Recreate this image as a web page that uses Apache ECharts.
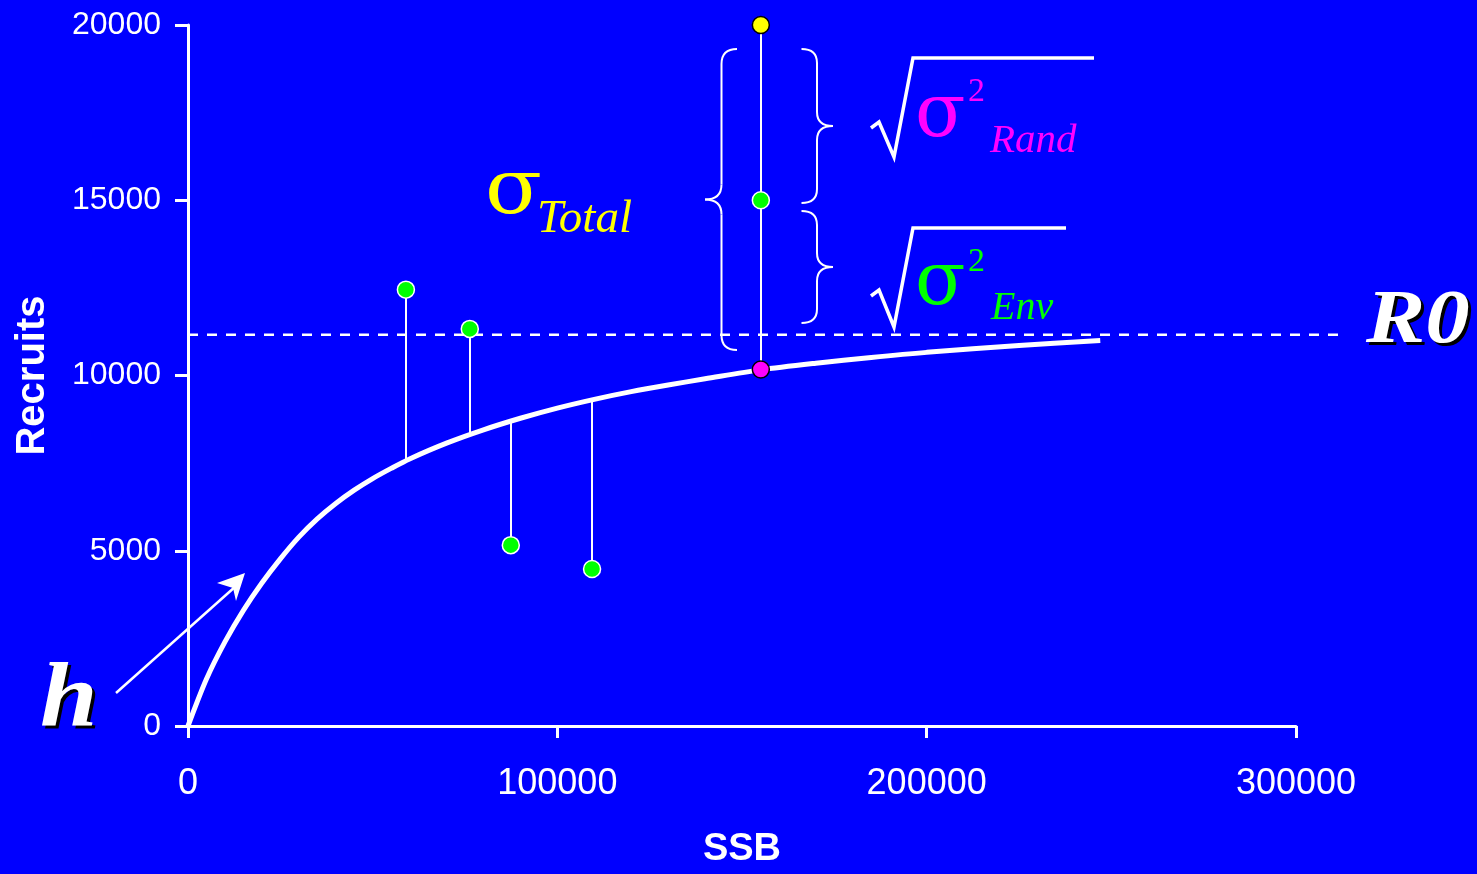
<!DOCTYPE html>
<html><head><meta charset="utf-8">
<script src="https://cdn.jsdelivr.net/npm/echarts@6/dist/echarts.min.js"></script>
<style>html,body{margin:0;padding:0;background:#0000ff;overflow:hidden;}#c{width:1477px;height:874px;}</style>
</head><body><div id="c"></div>
<script>
// Stock-recruitment curve
const curveSSB = [0, 5000, 10000, 15000, 20000, 25000, 30000, 35000, 40000, 45000, 50000, 55000, 60000, 70000, 80000, 90000, 100000, 110000, 120000, 130000, 140000, 155000, 170000, 185000, 200000, 225000, 247000];
const curveRec = [0, 1340, 2400, 3300, 4080, 4770, 5390, 5910, 6350, 6730, 7060, 7350, 7620, 8070, 8450, 8780, 9070, 9320, 9540, 9730, 9905, 10160, 10350, 10515, 10660, 10855, 11000];
// Observed points and their fitted values
const obsSSB = [59000, 76300, 87400, 109400];
const obsRec = [12450, 11330, 5160, 4480];
const obsFit = [7600, 8320, 8700, 9310];
// Decomposition example at one SSB
const focusSSB = 155100;
const focusTotal = 20000;
const focusEnv = 15000;
const focusFit = 10170;
// R0 asymptote
const r0Value = 11160;
const r0Span = [0, 312000];
// Axes
const xTicks = [0, 100000, 200000, 300000];
const yTicks = [0, 5000, 10000, 15000, 20000];

const SERIF = "'Liberation Serif', 'DejaVu Serif', serif";
const GREEK = "'DejaVu Serif', 'Liberation Serif', serif";
const SANS = "'Liberation Sans', Arial, sans-serif";

const braceStyle = { fill: null, stroke: '#fff', lineWidth: 2 };
function brace(x0, y0, y1, xs, xt, r) {
  const ym = (y0 + y1) / 2;
  const q = (a, b, c, d, e, f) => ({ type: 'bezierCurve', z: 100, shape: { x1: a, y1: b, cpx1: c, cpy1: d, x2: e, y2: f }, style: braceStyle });
  const l = (a, b, c, d) => ({ type: 'line', z: 100, shape: { x1: a, y1: b, x2: c, y2: d }, style: braceStyle });
  return [
    q(x0, y0, xs, y0, xs, y0 + r), l(xs, y0 + r, xs, ym - r), q(xs, ym - r, xs, ym, xt, ym),
    q(xt, ym, xs, ym, xs, ym + r), l(xs, ym + r, xs, y1 - r), q(xs, y1 - r, xs, y1, x0, y1)
  ];
}
function txt(x, y, text, size, color, opts) {
  opts = opts || {};
  return { type: 'text', x: x, y: y, z: 100, scaleX: opts.sx || 1,
    style: { text: text, fill: color, font: `${opts.style || 'normal'} ${opts.weight || 'normal'} ${size}px ${opts.family || SERIF}`,
      textAlign: 'left', textVerticalAlign: 'middle' } };
}

const chart = echarts.init(document.getElementById('c'));
const option = {
  backgroundColor: '#0000ff',
  animation: false,
  grid: { left: 188, top: 25, width: 1108, height: 706, containLabel: false },
  xAxis: {
    type: 'value', min: xTicks[0], max: xTicks[xTicks.length - 1], interval: 100000,
    name: 'SSB', nameLocation: 'middle', nameGap: 105,
    nameTextStyle: { color: '#fff', fontFamily: SANS, fontWeight: 'bold', fontSize: 38 },
    axisLine: { lineStyle: { color: '#fff', width: 3 } },
    axisTick: { show: true, length: 12, lineStyle: { color: '#fff', width: 3 } },
    axisLabel: { color: '#fff', fontFamily: SANS, fontSize: 36, margin: 40, formatter: v => String(v) },
    splitLine: { show: false }
  },
  yAxis: {
    type: 'value', min: yTicks[0], max: yTicks[yTicks.length - 1], interval: 5000,
    name: 'Recruits', nameLocation: 'middle', nameGap: 135, nameRotate: 90,
    nameTextStyle: { color: '#fff', fontFamily: SANS, fontWeight: 'bold', fontSize: 40 },
    axisLine: { show: true, lineStyle: { color: '#fff', width: 3 } },
    axisTick: { show: true, length: 13, lineStyle: { color: '#fff', width: 3 } },
    axisLabel: { color: '#fff', fontFamily: SANS, fontSize: 32, margin: 27, formatter: v => String(v) },
    splitLine: { show: false }
  },
  series: [
    { type: 'line', data: curveSSB.map((s, i) => [s, curveRec[i]]), smooth: 0.3, symbol: 'none',
      lineStyle: { color: '#fff', width: 5 }, z: 3 },
    { type: 'lines', coordinateSystem: 'cartesian2d',
      data: obsSSB.map((s, i) => ({ coords: [[s, obsRec[i]], [s, obsFit[i]]] }))
        .concat([{ coords: [[focusSSB, focusTotal], [focusSSB, focusFit]] }]),
      lineStyle: { color: '#fff', width: 2, opacity: 1 }, z: 4 },
    { type: 'scatter', data: obsSSB.map((s, i) => [s, obsRec[i]]).concat([[focusSSB, focusEnv]]),
      symbolSize: 17, itemStyle: { color: '#00ff00', borderColor: '#fff', borderWidth: 1.5, opacity: 1 }, z: 5 },
    { type: 'scatter', data: [[focusSSB, focusTotal]], symbolSize: 17,
      itemStyle: { color: '#ffff00', borderColor: '#000', borderWidth: 1.5, opacity: 1 }, z: 5 },
    { type: 'scatter', data: [[focusSSB, focusFit]], symbolSize: 17,
      itemStyle: { color: '#ff00ff', borderColor: '#000', borderWidth: 1.5, opacity: 1 }, z: 5 }
  ]
};
chart.setOption(option);

// R0 dashed asymptote, placed through the chart's own scales (extends past the axis end)
const pA = chart.convertToPixel({ gridIndex: 0 }, [r0Span[0], r0Value]);
const pB = chart.convertToPixel({ gridIndex: 0 }, [r0Span[1], r0Value]);

chart.setOption({
  graphic: [].concat(
    [{ type: 'line', z: 2, shape: { x1: pA[0], y1: pA[1], x2: pB[0], y2: pB[1] },
       style: { stroke: '#fff', lineWidth: 2.5, lineDash: [10, 9] } }],
    brace(737, 49, 350, 721.5, 705, 15),
    brace(801.5, 49, 203, 817, 833, 14),
    brace(801.5, 211, 323, 817, 833, 14),
    [
    // radicals
    { type: 'polyline', z: 100, shape: { points: [[871, 128], [879, 122], [894, 157], [913, 58], [1094, 58]] }, style: { fill: null, stroke: '#fff', lineWidth: 3.5, lineJoin: 'miter' } },
    { type: 'polyline', z: 100, shape: { points: [[871, 296], [879, 290], [894, 327], [913, 228], [1066, 228]] }, style: { fill: null, stroke: '#fff', lineWidth: 3.5, lineJoin: 'miter' } },
    // sigma total
    txt(485, 193, 'σ', 76, '#ffff00', { family: GREEK, sx: 1.1 }),
    txt(537, 220, 'Total', 47, '#ffff00', { style: 'italic' }),
    // sigma rand
    txt(915, 117, 'σ', 74, '#ff00ff', { family: GREEK }),
    txt(968, 92, '2', 34, '#ff00ff'),
    txt(990, 141, 'Rand', 41, '#ff00ff', { style: 'italic' }),
    // sigma env
    txt(915, 285, 'σ', 74, '#00ff00', { family: GREEK }),
    txt(968, 262, '2', 34, '#00ff00'),
    txt(991, 308, 'Env', 40, '#00ff00', { style: 'italic' }),
    // R0 label with shadow
    txt(1369, 325, 'R0', 76, '#000', { style: 'italic', weight: 'bold', sx: 1.17 }),
    txt(1366, 322, 'R0', 76, '#fff', { style: 'italic', weight: 'bold', sx: 1.17 }),
    // h label with shadow
    txt(43, 705, 'h', 90, '#000', { style: 'italic', weight: 'bold', sx: 1.15 }),
    txt(40, 702, 'h', 90, '#fff', { style: 'italic', weight: 'bold', sx: 1.15 }),
    // arrow
    { type: 'line', z: 100, shape: { x1: 116, y1: 693, x2: 236, y2: 586 }, style: { stroke: '#fff', lineWidth: 2.5 } },
    { type: 'polygon', z: 100, shape: { points: [[245, 573], [217, 583], [233, 588], [236, 601]] }, style: { fill: '#fff' } }
    ])
});
</script>
</body></html>
